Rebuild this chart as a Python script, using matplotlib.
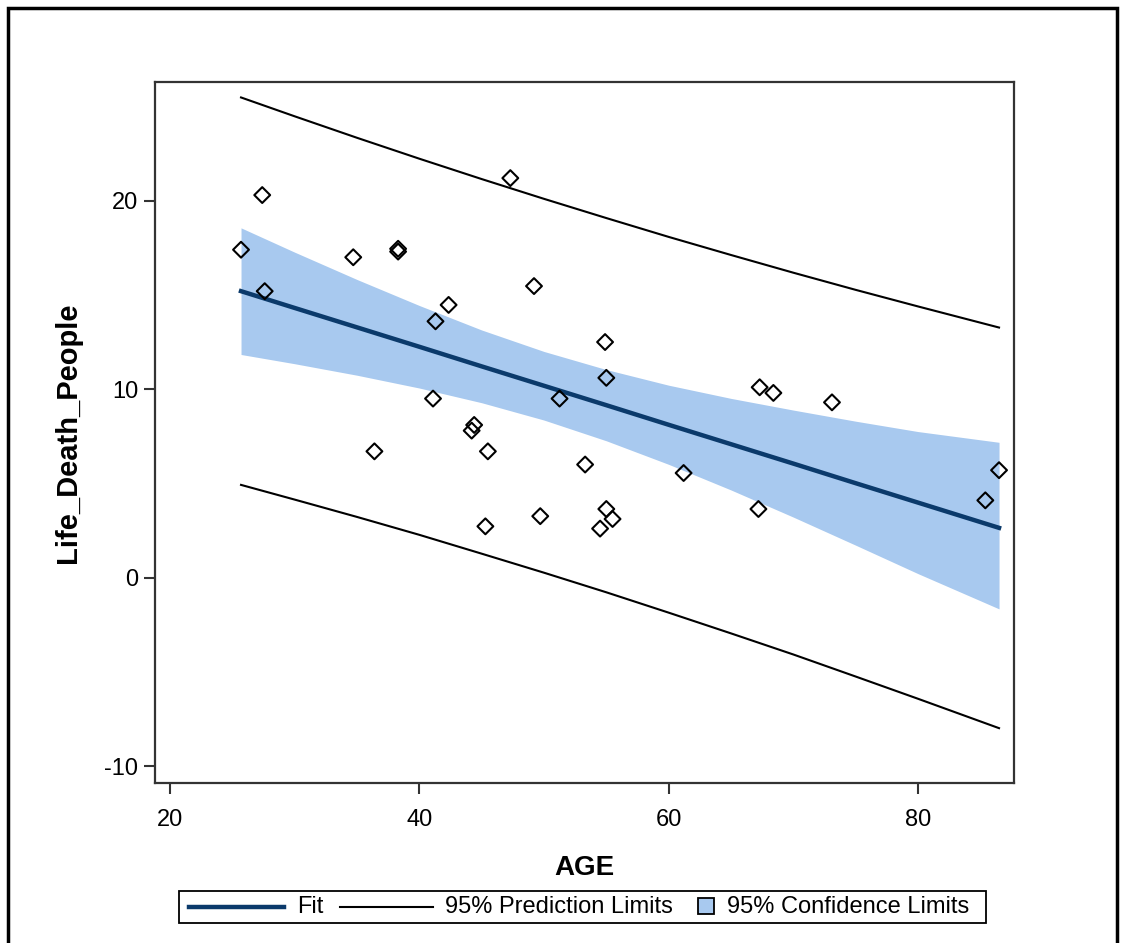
import numpy as np
import matplotlib
matplotlib.use("Agg")
import matplotlib.pyplot as plt
import matplotlib.patches as mpatches
from matplotlib.lines import Line2D

# 관측값 (AGE, Life_Death_People)
age = [25.7, 27.4, 27.6, 34.7, 36.4, 38.3, 38.3, 41.1, 41.3, 42.35,
       44.2, 44.4, 45.3, 45.5, 47.3, 49.2, 49.7, 51.25, 53.3, 54.5,
       54.9, 55.0, 55.0, 55.5, 61.2, 67.2, 67.3, 68.4, 73.1, 85.4, 86.5]
ldp = [17.4, 20.3, 15.2, 17.0, 6.7, 17.45, 17.3, 9.5, 13.6, 14.47,
       7.8, 8.1, 2.72, 6.7, 21.2, 15.47, 3.26, 9.5, 6.0, 2.6,
       12.5, 10.6, 3.64, 3.11, 5.55, 3.64, 10.1, 9.8, 9.3, 4.1, 5.7]

# 회귀선과 신뢰/예측 구간
grid_x = [25.7, 30, 35, 40, 45, 50, 55, 60, 65, 70, 75, 80, 86.5]
fit_y = [15.20, 14.31, 13.28, 12.25, 11.21, 10.18, 9.15, 8.11, 7.08, 6.05, 5.01, 3.98, 2.64]
cl_up = [18.56, 17.27, 15.82, 14.44, 13.14, 12.00, 11.04, 10.21, 9.51, 8.89, 8.30, 7.75, 7.18]
cl_lo = [11.84, 11.35, 10.74, 10.06, 9.28, 8.36, 7.26, 6.01, 4.65, 3.21, 1.72, 0.21, -1.66]
pl_up = [25.48, 24.48, 23.34, 22.23, 21.15, 20.10, 19.08, 18.08, 17.12, 16.18, 15.27, 14.39, 13.27]
pl_lo = [4.92, 4.14, 3.22, 2.27, 1.27, 0.26, -0.78, -1.86, -2.96, -4.08, -5.25, -6.43, -7.99]

x_ticks = [20, 40, 60, 80]
y_ticks = [-10, 0, 10, 20]
legend_labels = ["Fit", "95% Prediction Limits", "95% Confidence Limits"]

navy = "#0b3a6b"
band = "#a8c9ef"

plt.rcParams['font.family'] = ['Liberation Sans', 'DejaVu Sans']
plt.rcParams['axes.unicode_minus'] = False

W, H = 1124, 943
fig = plt.figure(figsize=(W/100, H/100), dpi=100)
ax = fig.add_axes([155/W, 1-783/H, 859/W, 701/H])

ax.fill_between(grid_x, cl_lo, cl_up, color=band, lw=0, zorder=1)
ax.plot(grid_x, pl_up, color="black", lw=1.5, zorder=2)
ax.plot(grid_x, pl_lo, color="black", lw=1.5, zorder=2)
ax.plot(grid_x, fit_y, color=navy, lw=3.2, zorder=3)
ax.scatter(age, ldp, marker="D", s=65, facecolors="none", edgecolors="black",
           linewidths=1.5, zorder=4)

ax.set_xlim(18.8, 87.7)
ax.set_ylim(-10.9, 26.3)
ax.set_xticks(x_ticks)
ax.set_yticks(y_ticks)
ax.tick_params(axis="both", direction="out", length=8, width=1.5, labelsize=17,
               colors="#333333", labelcolor="black")
ax.tick_params(axis="x", pad=11)
ax.tick_params(axis="y", pad=4)
for s in ax.spines.values():
    s.set_linewidth(1.6)
    s.set_color("#333333")

ax.set_xlabel("AGE", fontsize=20, fontweight="bold", labelpad=17)
ax.set_ylabel("Life_Death_People", fontsize=21, fontweight="bold", labelpad=16)

# 범례 (직접 그림, 픽셀 좌표)
def fx(px):
    return px / W

def fy(py):
    return 1 - py / H

tf = fig.transFigure
fig.add_artist(mpatches.Rectangle((fx(179), fy(923)), fx(986) - fx(179), fy(891) - fy(923),
                                  transform=tf, fill=False, edgecolor="black", lw=1.3))
ly = fy(907)
fig.add_artist(Line2D([fx(189), fx(284)], [ly, ly], transform=tf, color=navy, lw=3.2))
fig.text(fx(297), ly, legend_labels[0], fontsize=17, va="center", ha="left")
fig.add_artist(Line2D([fx(340), fx(433)], [ly, ly], transform=tf, color="black", lw=1.5))
fig.text(fx(445), ly, legend_labels[1], fontsize=17, va="center", ha="left")
fig.add_artist(mpatches.Rectangle((fx(698), fy(914)), fx(714) - fx(698), fy(898) - fy(914),
                                  transform=tf, facecolor=band, edgecolor="black", lw=1.3))
fig.text(fx(727), ly, legend_labels[2], fontsize=17, va="center", ha="left")

# 바깥 테두리
fig.add_artist(mpatches.Rectangle((8/W, -0.1), 1109/W, 1.1 - 8/H,
                                  transform=tf, fill=False, edgecolor="black", lw=2.5))

fig.savefig("out.png", dpi=100)
